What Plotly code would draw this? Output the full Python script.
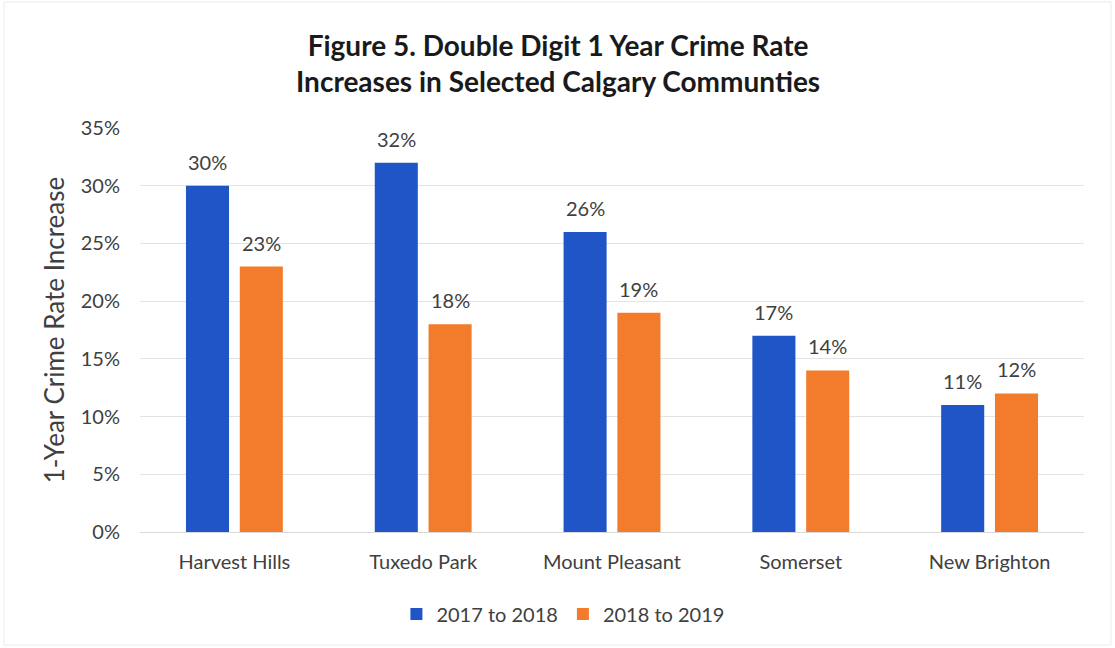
import plotly.graph_objects as go

communities = ["Harvest Hills", "Tuxedo Park", "Mount Pleasant", "Somerset", "New Brighton"]
rate_2017_2018 = [30, 32, 26, 17, 11]
rate_2018_2019 = [23, 18, 19, 14, 12]
y_ticks = [0, 5, 10, 15, 20, 25, 30, 35]

FONT = "Lato"
TEXT = "#404040"
BARGAP = 0.43
BARGROUPGAP = 0.2

positions = list(range(len(communities)))
# half the width of one bar slot inside a group, in axis units
slot_offset = (1 - BARGAP) / 4

series = [
    ("2017 to 2018", rate_2017_2018, "#1F55C6", -slot_offset),
    ("2018 to 2019", rate_2018_2019, "#F27C2C", slot_offset),
]

fig = go.Figure()
annotations = []
for name, values, color, shift in series:
    fig.add_trace(go.Bar(
        name=name, x=positions, y=values,
        marker=dict(color=color, line=dict(width=0)),
    ))
    for p, v in zip(positions, values):
        annotations.append(dict(
            x=p + shift, y=v, xref="x", yref="y",
            text=f"{v}%", showarrow=False,
            yanchor="middle", yshift=24,
            font=dict(family=FONT, size=20, color=TEXT),
        ))

annotations.append(dict(
    text="<b>Figure 5. Double Digit 1 Year Crime Rate<br>Increases in Selected Calgary Communties</b>",
    x=0.443, xref="paper", y=1.162, yref="paper",
    xanchor="center", yanchor="middle", showarrow=False,
    font=dict(family=FONT, size=28, color="#1a1a1a"),
))

fig.update_layout(
    width=1115, height=648,
    margin=dict(l=140, r=31, t=128, b=116),
    paper_bgcolor="white", plot_bgcolor="white",
    barmode="group", bargap=BARGAP, bargroupgap=BARGROUPGAP,
    font=dict(family=FONT, size=20, color=TEXT),
    annotations=annotations,
    shapes=[dict(
        type="rect", xref="paper", yref="paper",
        x0=-0.144, x1=1.0286, y0=-0.2797, y1=1.312,
        line=dict(color="#ebebeb", width=1), fillcolor="rgba(0,0,0,0)",
        layer="below",
    )],
    legend=dict(
        orientation="h", x=0.448, xanchor="center", y=-0.155, yanchor="top",
        font=dict(family=FONT, size=20, color=TEXT), itemwidth=30,
    ),
    xaxis=dict(
        range=[-0.5, len(communities) - 0.5],
        tickvals=positions, ticktext=communities,
        showgrid=False, zeroline=False, showline=True, linecolor="#d9d9d9", linewidth=1,
        ticks="", ticklabelstandoff=12,
        tickfont=dict(family=FONT, size=20, color=TEXT),
    ),
    yaxis=dict(
        range=[0, 35], tickvals=y_ticks, ticktext=[f"{v}%" for v in y_ticks],
        showgrid=True, gridcolor="#e3e3e3", gridwidth=1, zeroline=False,
        ticks="", ticklabelstandoff=19,
        tickfont=dict(family=FONT, size=20, color=TEXT),
        title=dict(text="1-Year Crime Rate Increase", standoff=8,
                   font=dict(family=FONT, size=26, color=TEXT)),
    ),
)

fig.write_html("out.html")
